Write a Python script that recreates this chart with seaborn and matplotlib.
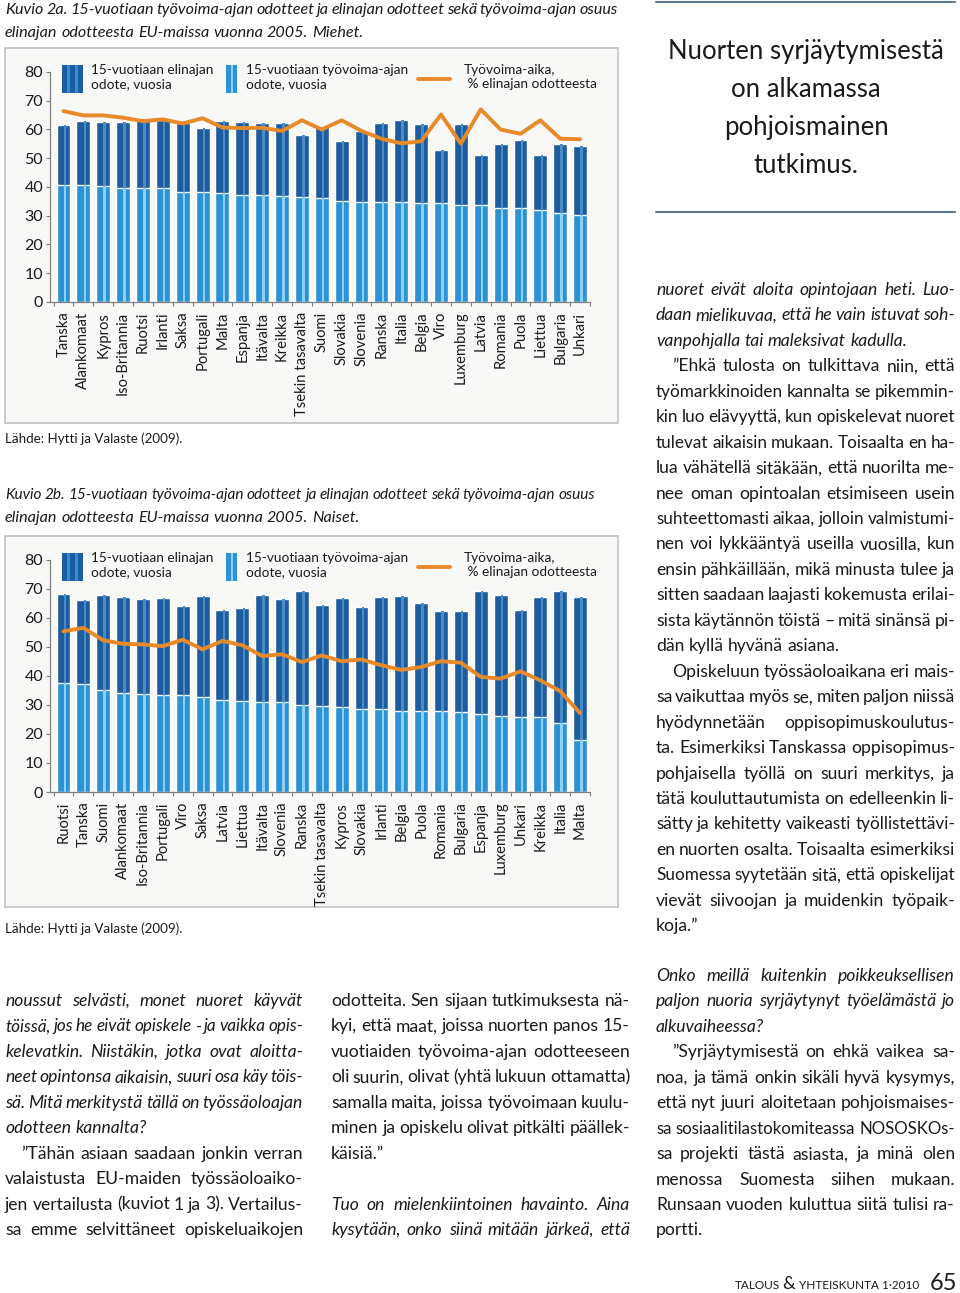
import matplotlib
matplotlib.use("Agg")
import matplotlib.pyplot as plt
import seaborn as sns
import numpy as np
import pandas as pd
from matplotlib.patches import Rectangle
from matplotlib.lines import Line2D

W, H = 960, 1293

# Kuvio 2a, miehet
maat_m = ["Tanska", "Alankomaat", "Kypros", "Iso-Britannia", "Ruotsi", "Irlanti", "Saksa",
          "Portugali", "Malta", "Espanja", "Itävalta", "Kreikka", "Tsekin tasavalta", "Suomi",
          "Slovakia", "Slovenia", "Ranska", "Italia", "Belgia", "Viro", "Luxemburg", "Latvia",
          "Romania", "Puola", "Liettua", "Bulgaria", "Unkari"]
elin_m = [61.4, 62.8, 62.5, 62.7, 63.7, 63.3, 62.4, 60.4, 62.8, 62.5, 62.2, 62.2, 58.2, 61.0,
          56.0, 59.5, 62.2, 63.4, 61.9, 52.9, 61.9, 51.3, 55.1, 56.4, 51.3, 55.1, 54.3]
tyo_m = [40.6, 40.6, 40.4, 39.8, 39.6, 39.6, 38.2, 38.2, 37.9, 37.3, 37.3, 36.7, 36.5, 36.3,
         35.1, 34.9, 34.9, 34.9, 34.4, 34.3, 33.8, 33.8, 32.8, 32.6, 32.0, 30.9, 30.4]
osuus_m = [66.4, 64.9, 64.9, 64.1, 62.9, 63.5, 62.1, 63.9, 60.7, 60.5, 60.6, 59.5, 63.2, 60.0,
           63.2, 59.5, 56.8, 55.2, 55.9, 65.2, 55.1, 67.0, 60.0, 58.5, 63.2, 56.8, 56.6]

# Kuvio 2b, naiset
maat_n = ["Ruotsi", "Tanska", "Suomi", "Alankomaat", "Iso-Britannia", "Portugali", "Viro",
          "Saksa", "Latvia", "Liettua", "Itävalta", "Slovenia", "Ranska", "Tsekin tasavalta",
          "Kypros", "Slovakia", "Irlanti", "Belgia", "Puola", "Romania", "Bulgaria", "Espanja",
          "Luxemburg", "Unkari", "Kreikka", "Italia", "Malta"]
elin_n = [68.3, 66.2, 68.0, 67.4, 66.7, 67.0, 64.1, 67.6, 62.6, 63.3, 67.8, 66.7, 69.3, 64.6,
          67.0, 63.7, 67.4, 67.6, 65.2, 62.3, 62.3, 69.2, 67.8, 62.9, 67.1, 69.3, 67.2]
tyo_n = [37.6, 37.1, 35.2, 34.1, 33.7, 33.3, 33.3, 32.9, 31.8, 31.4, 31.1, 31.1, 29.9, 29.7,
         29.3, 28.7, 28.7, 28.0, 28.0, 27.8, 27.5, 27.0, 26.2, 25.9, 25.7, 23.7, 17.8]
osuus_n = [55.4, 56.6, 52.3, 51.1, 50.9, 50.3, 52.5, 49.2, 52.1, 50.6, 46.9, 47.5, 44.8, 47.1,
           45.1, 45.7, 43.7, 42.1, 43.1, 45.1, 44.6, 39.7, 39.1, 41.6, 38.5, 34.8, 27.2]

leg_elin = "15-vuotiaan elinajan\nodote, vuosia"
leg_tyo = "15-vuotiaan työvoima-ajan\nodote, vuosia"
leg_osuus = "Työvoima-aika,\n % elinajan odotteesta"

DARK = "#1d5c9e"
DARK_HI = "#4a8cc8"
LIGHT = "#2b92d6"
LIGHT_HI = "#8dd0f2"
ORANGE = "#e8892a"
INK = "#1a1a1a"

sns.set_theme(style="ticks")
plt.rcParams['font.family'] = ['Lato', 'DejaVu Sans']

fig = plt.figure(figsize=(W / 100, H / 100), dpi=100)
fig.patch.set_facecolor("white")
rend = fig.canvas.get_renderer()


def fx(px):
    return px / W


def fy(py):
    return 1 - py / H


def rivi(x0, y, leveys, teksti, koko, tyyli="normal", tasaa=True, sisennys=0):
    sanat = teksti.split(" ")
    avail = leveys - sisennys
    while True:
        objs = [fig.text(0, fy(y), s, fontsize=koko, style=tyyli, va="baseline", ha="left",
                         color=INK) for s in sanat]
        lev = [o.get_window_extent(rend).width for o in objs]
        if tasaa and len(sanat) > 1:
            vali = (avail - sum(lev)) / (len(sanat) - 1)
        else:
            vali = koko * 100 / 72 * 0.24
        if vali >= 2.5 or koko < 8:
            break
        for o in objs:
            o.remove()
        koko -= 0.25
    x = x0 + sisennys
    for o, w in zip(objs, lev):
        o.set_x(fx(x))
        x += w + vali


def palsta(x0, y0, leveys, rivit, koko=12.6, lh=25.45):
    # rivit: (teksti, tyyli, tasaa, sisennys)
    for i, (t, st, tas, sis) in enumerate(rivit):
        if t:
            rivi(x0, y0 + i * lh, leveys, t, koko, st, tas, sis)


def kuvio(y80, y0, laatikko, maat, elin, tyo, osuus):
    bx0, by0, bx1, by1 = laatikko
    fig.patches.append(Rectangle((fx(bx0), fy(by1)), (bx1 - bx0) / W, (by1 - by0) / H,
                                 transform=fig.transFigure, facecolor="#f8f8f6",
                                 edgecolor="#c6c6c6", lw=1.3, zorder=-5))
    ax = fig.add_axes([fx(50), fy(y0), (590 - 50) / W, (y0 - y80) / H])
    ax.patch.set_alpha(0)
    df = pd.DataFrame({"maa": maat, "elin": elin, "tyo": tyo, "osuus": osuus})
    x = np.arange(len(maat))
    sns.barplot(data=df, x="maa", y="elin", color=DARK, saturation=1, width=0.7,
                errorbar=None, ax=ax)
    sns.barplot(data=df, x="maa", y="tyo", color=LIGHT, saturation=1, width=0.7,
                errorbar=None, ax=ax)
    ax.bar(x + 0.07, df["elin"] - df["tyo"], bottom=df["tyo"], width=0.12, color=DARK_HI, lw=0)
    ax.bar(x + 0.07, df["tyo"], width=0.12, color=LIGHT_HI, lw=0)
    ax.plot(x, df["osuus"], color=ORANGE, lw=2.8, solid_joinstyle="round")
    ax.set_xlim(-0.68, 26.45)
    ax.set_ylim(0, 80)
    ax.set_yticks(range(0, 81, 10))
    ax.set_xticks(x)
    ax.set_xticklabels(maat, rotation=90, fontsize=10.6, color=INK)
    ax.set_xticks(np.arange(-0.5, 27, 1), minor=True)
    ax.set_xlabel("")
    ax.set_ylabel("")
    ax.tick_params(axis="y", labelsize=11.5, length=3, width=0.8, color="#808080",
                   labelcolor=INK, pad=2)
    ax.tick_params(axis="x", which="major", length=0, pad=7)
    ax.tick_params(axis="x", which="minor", length=3, width=0.8, color="#808080")
    for s in ["top", "right"]:
        ax.spines[s].set_visible(False)
    for s in ["left", "bottom"]:
        ax.spines[s].set_color("#808080")
        ax.spines[s].set_linewidth(0.9)

    # selite
    ly = y80 - 7
    fig.patches.append(Rectangle((fx(62), fy(ly + 28)), 21 / W, 28 / H, transform=fig.transFigure,
                                 facecolor=DARK, edgecolor="none"))
    for sx in (67, 75):
        fig.patches.append(Rectangle((fx(sx), fy(ly + 28)), 2.5 / W, 28 / H,
                                     transform=fig.transFigure, facecolor=LIGHT, edgecolor="none"))
    fig.patches.append(Rectangle((fx(226), fy(ly + 28)), 11 / W, 28 / H, transform=fig.transFigure,
                                 facecolor=LIGHT, edgecolor="none"))
    fig.patches.append(Rectangle((fx(231), fy(ly + 28)), 2.2 / W, 28 / H,
                                 transform=fig.transFigure, facecolor=LIGHT_HI, edgecolor="none"))
    fig.lines.append(Line2D([fx(418), fx(450)], [fy(ly + 14), fy(ly + 14)],
                            transform=fig.transFigure, color=ORANGE, lw=2.8))
    for tx, t in ((91, leg_elin), (246, leg_tyo), (464, leg_osuus)):
        fig.text(fx(tx), fy(ly - 1), t, fontsize=9.8, va="top", ha="left", color=INK,
                 linespacing=1.25)
    return ax


kuvio(72, 302, (5, 48, 618, 423), maat_m, elin_m, tyo_m, osuus_m)
kuvio(560, 792, (5, 536, 618, 907), maat_n, elin_n, tyo_n, osuus_n)

# kuvatekstit
rivi(5, 14, 613, "Kuvio 2a. 15-vuotiaan työvoima-ajan odotteet ja elinajan odotteet sekä työvoima-ajan osuus",
     11.6, "italic", True)
rivi(5, 37, 613, "elinajan odotteesta EU-maissa vuonna 2005. Miehet.", 11.6, "italic", False)
rivi(5, 499, 590, "Kuvio 2b. 15-vuotiaan työvoima-ajan odotteet ja elinajan odotteet sekä työvoima-ajan osuus",
     11.6, "italic", True)
rivi(5, 522, 590, "elinajan odotteesta EU-maissa vuonna 2005. Naiset.", 11.6, "italic", False)
fig.text(fx(5), fy(443), "Lähde: Hytti ja Valaste (2009).", fontsize=9.6, va="baseline", color=INK)
fig.text(fx(5), fy(933), "Lähde: Hytti ja Valaste (2009).", fontsize=9.6, va="baseline", color=INK)

# nosto
for yy in (2, 212):
    fig.lines.append(Line2D([fx(656), fx(955)], [fy(yy), fy(yy)], transform=fig.transFigure,
                            color="#5d7891", lw=1.5))
for i, t in enumerate(["Nuorten syrjäytymisestä", "on alkamassa", "pohjoismainen", "tutkimus."]):
    fig.text(fx(806), fy(52 + i * 37.7), t, fontsize=18.5, ha="center", va="center", color=INK)

I, R = "italic", "normal"
IND = 16
palsta(656, 295, 299, [
    ("nuoret eivät aloita opintojaan heti. Luo-", I, True, 0),
    ("daan mielikuvaa, että he vain istuvat soh-", I, True, 0),
    ("vanpohjalla tai maleksivat kadulla.", I, False, 0),
    ("”Ehkä tulosta on tulkittava niin, että", R, True, IND),
    ("työmarkkinoiden kannalta se pikemmin-", R, True, 0),
    ("kin luo elävyyttä, kun opiskelevat nuoret", R, True, 0),
    ("tulevat aikaisin mukaan. Toisaalta en ha-", R, True, 0),
    ("lua vähätellä sitäkään, että nuorilta me-", R, True, 0),
    ("nee oman opintoalan etsimiseen usein", R, True, 0),
    ("suhteettomasti aikaa, jolloin valmistumi-", R, True, 0),
    ("nen voi lykkääntyä useilla vuosilla, kun", R, True, 0),
    ("ensin pähkäillään, mikä minusta tulee ja", R, True, 0),
    ("sitten saadaan laajasti kokemusta erilai-", R, True, 0),
    ("sista käytännön töistä – mitä sinänsä pi-", R, True, 0),
    ("dän kyllä hyvänä asiana.", R, False, 0),
    ("Opiskeluun työssäoloaikana eri mais-", R, True, IND),
    ("sa vaikuttaa myös se, miten paljon niissä", R, True, 0),
    ("hyödynnetään oppisopimuskoulutus-", R, True, 0),
    ("ta. Esimerkiksi Tanskassa oppisopimus-", R, True, 0),
    ("pohjaisella työllä on suuri merkitys, ja", R, True, 0),
    ("tätä kouluttautumista on edelleenkin li-", R, True, 0),
    ("sätty ja kehitetty vaikeasti työllistettävi-", R, True, 0),
    ("en nuorten osalta. Toisaalta esimerkiksi", R, True, 0),
    ("Suomessa syytetään sitä, että opiskelijat", R, True, 0),
    ("vievät siivoojan ja muidenkin työpaik-", R, True, 0),
    ("koja.”", R, False, 0),
])

palsta(5, 1006, 298, [
    ("noussut selvästi, monet nuoret käyvät", I, True, 0),
    ("töissä, jos he eivät opiskele - ja vaikka opis-", I, True, 0),
    ("kelevatkin. Niistäkin, jotka ovat aloitta-", I, True, 0),
    ("neet opintonsa aikaisin, suuri osa käy töis-", I, True, 0),
    ("sä. Mitä merkitystä tällä on työssäoloajan", I, True, 0),
    ("odotteen kannalta?", I, False, 0),
    ("”Tähän asiaan saadaan jonkin verran", R, True, IND),
    ("valaistusta EU-maiden työssäoloaiko-", R, True, 0),
    ("jen vertailusta (kuviot 1 ja 3). Vertailus-", R, True, 0),
    ("sa emme selvittäneet opiskeluaikojen", R, True, 0),
])

palsta(331, 1006, 299, [
    ("odotteita. Sen sijaan tutkimuksesta nä-", R, True, 0),
    ("kyi, että maat, joissa nuorten panos 15-", R, True, 0),
    ("vuotiaiden työvoima-ajan odotteeseen", R, True, 0),
    ("oli suurin, olivat (yhtä lukuun ottamatta)", R, True, 0),
    ("samalla maita, joissa työvoimaan kuulu-", R, True, 0),
    ("minen ja opiskelu olivat pitkälti päällek-", R, True, 0),
    ("käisiä.”", R, False, 0),
    ("", R, False, 0),
    ("Tuo on mielenkiintoinen havainto. Aina", I, True, 0),
    ("kysytään, onko siinä mitään järkeä, että", I, True, 0),
])

palsta(656, 981, 299, [
    ("Onko meillä kuitenkin poikkeuksellisen", I, True, 0),
    ("paljon nuoria syrjäytynyt työelämästä jo", I, True, 0),
    ("alkuvaiheessa?", I, False, 0),
    ("”Syrjäytymisestä on ehkä vaikea sa-", R, True, IND),
    ("noa, ja tämä onkin sikäli hyvä kysymys,", R, True, 0),
    ("että nyt juuri aloitetaan pohjoismaises-", R, True, 0),
    ("sa sosiaalitilastokomiteassa NOSOSKOs-", R, True, 0),
    ("sa projekti tästä asiasta, ja minä olen", R, True, 0),
    ("menossa Suomesta siihen mukaan.", R, True, 0),
    ("Runsaan vuoden kuluttua siitä tulisi ra-", R, True, 0),
    ("portti.", R, False, 0),
])

# alatunniste
fig.text(fx(735), fy(1289), "TALOUS", fontsize=8.5, va="baseline", color=INK)
fig.text(fx(782), fy(1289), "&", fontsize=13, va="baseline", color=INK)
fig.text(fx(799), fy(1289), "YHTEISKUNTA 1·2010", fontsize=8.5, va="baseline", color=INK)
fig.text(fx(930), fy(1290), "65", fontsize=17, va="baseline", color=INK)

fig.savefig("out.png", dpi=100, facecolor="white")
